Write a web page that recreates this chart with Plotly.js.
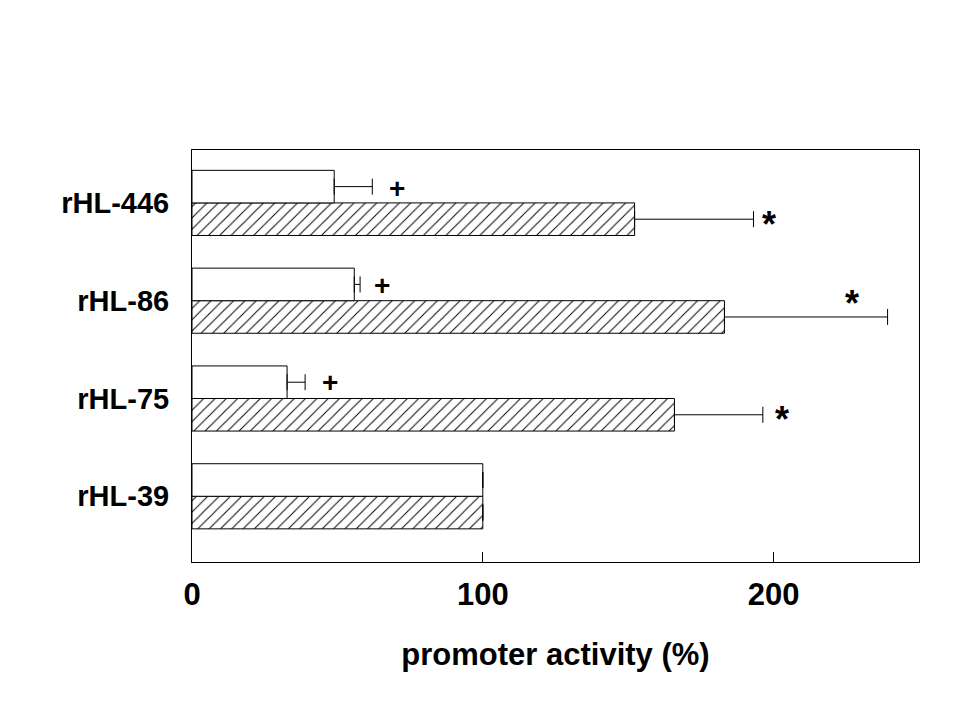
<html><head>
<style>
body { margin: 0; background: white; }
#chart { width: 960px; height: 720px; }
</style>
<script src="https://cdn.plot.ly/plotly-3.0.1.min.js"></script>
</head>
<body>
<div id="chart"></div>
<script>
// constructs, bottom to top
const constructs = ['rHL-39', 'rHL-75', 'rHL-86', 'rHL-446'];

// open bars
const openVals = [100, 32.7, 55.8, 48.9];
const openErr = [0, 6.2, 2.0, 13.1];

// hatched bars
const hatchVals = [100, 165.9, 183.1, 152.2];
const hatchErr = [0, 30.4, 56.1, 40.9];

// significance marks: [symbol, x value, construct index]
const marks = [
  ['+', 70.4, 3.15],
  ['+', 65.2, 2.16],
  ['+', 47.3, 1.16],
  ['*', 198.5, 2.83],
  ['*', 227.1, 2.02],
  ['*', 202.8, 0.84]
];

const FONT = 'Arial, "Liberation Sans", sans-serif';

function errOpts(arr) {
  return {type: 'data', symmetric: false, array: arr,
          arrayminus: arr.map(() => 0), color: 'black', thickness: 1, width: 8};
}

const data = [
  {
    type: 'bar', orientation: 'h',
    y: constructs, x: hatchVals,
    marker: {color: 'white', line: {color: 'black', width: 1},
             pattern: {shape: '/', fgcolor: 'black', bgcolor: 'white', size: 8, solidity: 0.12}},
    error_x: errOpts(hatchErr),
    hoverinfo: 'skip'
  },
  {
    type: 'bar', orientation: 'h',
    y: constructs, x: openVals,
    marker: {color: 'white', line: {color: 'black', width: 1}},
    error_x: errOpts(openErr),
    hoverinfo: 'skip'
  }
];

const layout = {
  width: 960, height: 720,
  margin: {l: 192, r: 41, t: 150, b: 158},
  paper_bgcolor: 'white', plot_bgcolor: 'white',
  showlegend: false,
  barmode: 'group', bargap: 0.334, bargroupgap: 0,
  font: {family: FONT, color: 'black'},
  xaxis: {
    range: [0, 250], tickvals: [0, 100, 200],
    ticks: 'inside', ticklen: 10, tickcolor: 'black', tickwidth: 1,
    showline: true, linecolor: 'black', linewidth: 1, mirror: true,
    showgrid: false, zeroline: false,
    tickfont: {size: 31, weight: 'bold'},
    ticklabelstandoff: 5,
    title: {text: 'promoter activity (%)', font: {size: 31, weight: 'bold'}, standoff: 32}
  },
  yaxis: {
    type: 'category', range: [-0.672, 3.541],
    ticks: '', showline: true, linecolor: 'black', linewidth: 1, mirror: true,
    showgrid: false, zeroline: false,
    tickfont: {size: 29, weight: 'bold'},
    ticklabelstandoff: 16
  },
  annotations: marks.map(m => ({
    text: m[0], x: m[1], y: m[2], xref: 'x', yref: 'y',
    showarrow: false, font: {size: m[0] === '*' ? 36 : 28, weight: 'bold'},
    yshift: m[0] === '*' ? -5 : 0
  }))
};

Plotly.newPlot('chart', data, layout, {staticPlot: true});
</script>
</body></html>
